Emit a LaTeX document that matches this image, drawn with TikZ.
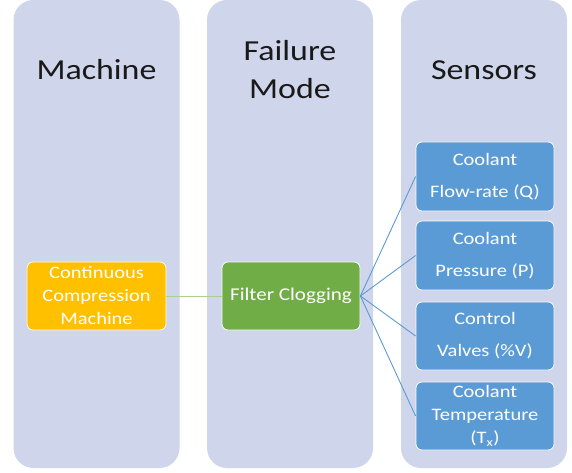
\documentclass[tikz,border=0pt]{standalone}
\usepackage{fontspec}
\setmainfont{Carlito}[FakeStretch=1.17]
\definecolor{panelc}{HTML}{CFD5EA}
\definecolor{orangec}{HTML}{FFC000}
\definecolor{greenc}{HTML}{70AD47}
\definecolor{bluec}{HTML}{5B9BD5}
\definecolor{lgreen}{HTML}{A9D18E}
\tikzset{
  panel/.style={rectangle, rounded corners=20pt, fill=panelc, draw=none, minimum width=166pt, minimum height=468pt, inner sep=0pt},
  title/.style={font=\fontsize{29}{38}\selectfont, align=center, text=black!90},
  box/.style={rectangle, rounded corners=6pt, draw=white!90!panelc, line width=0.8pt, text=white, align=center, minimum width=138pt, minimum height=68pt, inner sep=2pt},
  wide/.style={font=\fontsize{17.5}{32}\selectfont},
  tight/.style={font=\fontsize{17.5}{23}\selectfont},
  link/.style={line width=0.9pt}
}
\begin{document}
\begin{tikzpicture}[x=1pt,y=-1pt]
\useasboundingbox (0,0) rectangle (572,473);
\node[panel] (p1) at (96.5,234) {};
\node[panel] (p2) at (290,234) {};
\node[panel] (p3) at (484,234) {};
\node[title] (t1) at (96.5,70) {Machine};
\node[title] (t2) at (290,70) {Failure\\Mode};
\node[title] (t3) at (484,70) {Sensors};
\node[box, tight, fill=orangec, minimum width=139pt] (ccm) at (96.5,296) {Continuous\\Compression\\Machine};
\node[box, fill=greenc, font=\fontsize{18}{23}\selectfont] (fc) at (291,296) {Filter Clogging};
\node[box, wide, fill=bluec, minimum height=69pt] (s1) at (485,176.5) {Coolant\\Flow-rate (Q)};
\node[box, wide, fill=bluec, minimum height=69pt] (s2) at (485,255.5) {Coolant\\Pressure (P)};
\node[box, wide, fill=bluec] (s3) at (485,336) {Control\\Valves (\%V)};
\node[box, tight, fill=bluec] (s4) at (485,416) {Coolant\\Temperature\\(T\textsubscript{x})};
\draw[link, lgreen] (ccm.east) -- (fc.west);
\foreach \s in {s1,s2,s3,s4}{
  \draw[link, bluec] (fc.east) -- (\s.west);
}
\end{tikzpicture}
\end{document}
